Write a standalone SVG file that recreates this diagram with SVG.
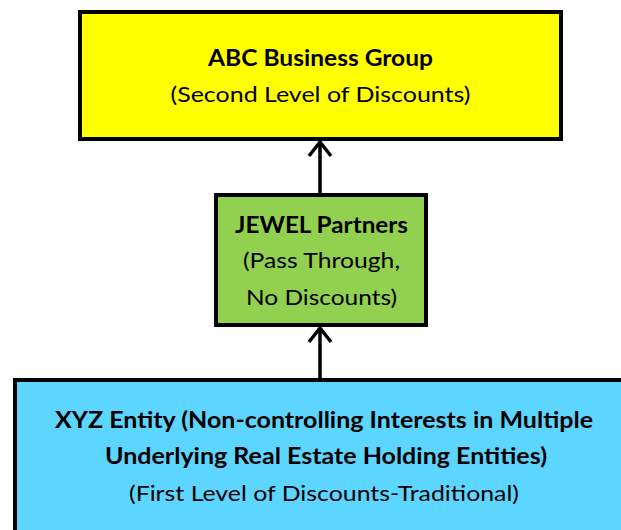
<svg xmlns="http://www.w3.org/2000/svg" width="621" height="530" viewBox="0 0 621 530">
<style>
.box{stroke:#000;stroke-width:4}
.t{font-family:Lato,"Liberation Sans",sans-serif;font-size:22px;fill:#000;text-anchor:middle}
.b{font-weight:bold}
.conn{stroke:#000;stroke-width:3.5;fill:none}
</style>
<defs>
<marker id="arr" markerUnits="userSpaceOnUse" markerWidth="30" markerHeight="30" refX="17" refY="15" orient="auto" viewBox="0 0 30 30">
<polyline points="3,4 17,15 3,26" fill="none" stroke="#000" stroke-width="3.5"/>
</marker>
</defs>
<rect width="621" height="530" fill="#fff"/>
<g id="abc">
<rect class="box" x="80" y="12" width="481" height="127" fill="#FFFF00"/>
<text class="t b" x="320.5" y="66" textLength="225" lengthAdjust="spacingAndGlyphs">ABC Business Group</text>
<text class="t" x="320.5" y="102" textLength="300" lengthAdjust="spacingAndGlyphs">(Second Level of Discounts)</text>
</g>
<g id="jewel">
<rect class="box" x="216" y="195" width="210" height="130" fill="#92D050"/>
<text class="t b" x="321.5" y="233" textLength="173" lengthAdjust="spacingAndGlyphs">JEWEL Partners</text>
<text class="t" x="321.5" y="268" textLength="157" lengthAdjust="spacingAndGlyphs">(Pass Through,</text>
<text class="t" x="321.5" y="305" textLength="151" lengthAdjust="spacingAndGlyphs">No Discounts)</text>
</g>
<g id="xyz">
<rect class="box" x="15" y="380" width="640" height="200" fill="#5CD5FF"/>
<text class="t b" x="324" y="428" textLength="538" lengthAdjust="spacingAndGlyphs">XYZ Entity (Non-controlling Interests in Multiple</text>
<text class="t b" x="326" y="464" textLength="442" lengthAdjust="spacingAndGlyphs">Underlying Real Estate Holding Entities)</text>
<text class="t" x="324" y="501" textLength="390" lengthAdjust="spacingAndGlyphs">(First Level of Discounts-Traditional)</text>
</g>
<g id="connectors">
<line class="conn" x1="320" y1="193" x2="320" y2="142" marker-end="url(#arr)"/>
<line class="conn" x1="320" y1="378" x2="320" y2="328" marker-end="url(#arr)"/>
</g>
</svg>
